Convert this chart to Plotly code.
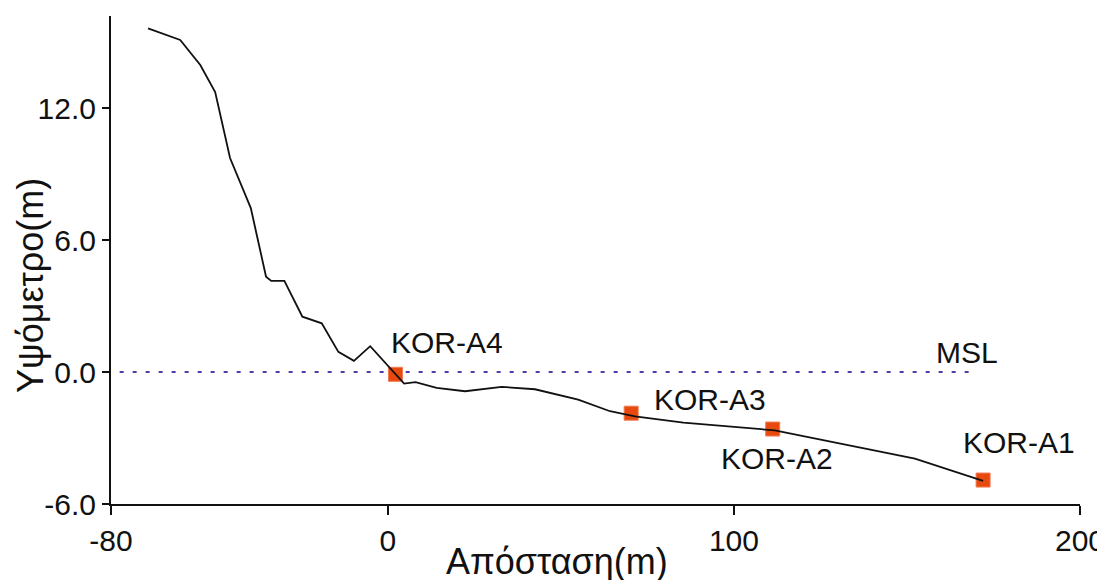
import plotly.graph_objects as go

# Terrain profile (distance m, elevation m)
profile_x = [-69.3, -60.0, -54.2, -49.9, -45.6, -39.6, -35.2, -33.7, -29.9, -24.7,
             -19.1, -14.3, -9.8, -5.1, 4.7, 8.0, 14.1, 22.3, 32.9, 42.5,
             55.0, 64.2, 71.4, 85.4, 111.8, 132.3, 152.3, 172.0]
profile_y = [15.64, 15.11, 13.97, 12.74, 9.74, 7.46, 4.34, 4.15, 4.15, 2.52,
             2.22, 0.92, 0.51, 1.18, -0.52, -0.46, -0.72, -0.87, -0.67, -0.78,
             -1.25, -1.78, -2.01, -2.30, -2.65, -3.30, -3.94, -4.95]

# Sample points
sample_names = ["KOR-A4", "KOR-A3", "KOR-A2", "KOR-A1"]
sample_x = [2.2, 70.3, 111.2, 172.0]
sample_y = [-0.1, -1.87, -2.59, -4.91]

# Mean sea level line
msl_x = [-77.5, 169.0]
msl_y = [0.0, 0.0]

x_ticks = [-80, 0, 100, 200]
y_ticks = [-6.0, 0.0, 6.0, 12.0]

FONT = "Liberation Sans, Arial, sans-serif"

fig = go.Figure()
fig.add_trace(go.Scatter(
    x=msl_x, y=msl_y, mode="lines",
    line=dict(color="#4F3DAA", width=2, dash="4px,9px"),
    showlegend=False, hoverinfo="skip"))
fig.add_trace(go.Scatter(
    x=sample_x, y=sample_y, mode="markers",
    marker=dict(symbol="square", size=14, color="#E8490F",
                line=dict(color="#F27A52", width=1)),
    showlegend=False))
fig.add_trace(go.Scatter(
    x=profile_x, y=profile_y, mode="lines",
    line=dict(color="#111111", width=1.8),
    showlegend=False))

label_offsets = {"KOR-A4": (52, 32), "KOR-A3": (79, 14),
                 "KOR-A2": (4, -29), "KOR-A1": (36, 38)}
for name, sx, sy in zip(sample_names, sample_x, sample_y):
    dx, dy = label_offsets[name]
    fig.add_annotation(x=sx, y=sy, text=name, showarrow=False,
                       xshift=dx, yshift=dy, xanchor="center", yanchor="middle",
                       font=dict(family=FONT, size=30, color="#111111"))

fig.add_annotation(x=msl_x[1], y=0, text="MSL", showarrow=False,
                   xshift=-6, yshift=20, xanchor="center", yanchor="middle",
                   font=dict(family=FONT, size=30, color="#111111"))

# Axis titles
fig.add_annotation(xref="paper", yref="paper", x=0.0, y=0.0,
                   text="Απόσταση(m)", showarrow=False,
                   xanchor="center", yanchor="middle",
                   xshift=446, yshift=-57,
                   font=dict(family=FONT, size=36, color="#111111"))
fig.add_annotation(xref="paper", yref="paper", x=0, y=0.5,
                   text="Υψόμετρο(m)", showarrow=False, textangle=-90,
                   xanchor="center", yanchor="middle",
                   xshift=-81, yshift=-26,
                   font=dict(family=FONT, size=36, color="#111111"))

# The page body adds an 8px margin, so the figure is sized to fit the window.
fig.update_layout(
    template="none",
    width=1097, height=572,
    margin=dict(l=103, r=25, t=8, b=76),
    paper_bgcolor="white", plot_bgcolor="white",
    font=dict(family=FONT, color="#111111"),
    xaxis=dict(range=[-80, 200], tickvals=x_ticks, ticktext=[str(v) for v in x_ticks],
               automargin=False, ticklabeloverflow="allow",
               showgrid=False, zeroline=False, showline=True, linecolor="#111111",
               linewidth=2, ticks="outside", ticklen=9, tickwidth=2, tickcolor="#111111",
               tickfont=dict(size=30, family=FONT, color="#111111")),
    yaxis=dict(range=[-6, 16.2], tickvals=y_ticks, ticktext=[f"{v:.1f}" for v in y_ticks],
               automargin=False, ticklabeloverflow="allow",
               showgrid=False, zeroline=False, showline=True, linecolor="#111111",
               linewidth=2, ticks="outside", ticklen=7, tickwidth=2, tickcolor="#111111",
               tickfont=dict(size=30, family=FONT, color="#111111")),
)

fig.write_html("out.html")
